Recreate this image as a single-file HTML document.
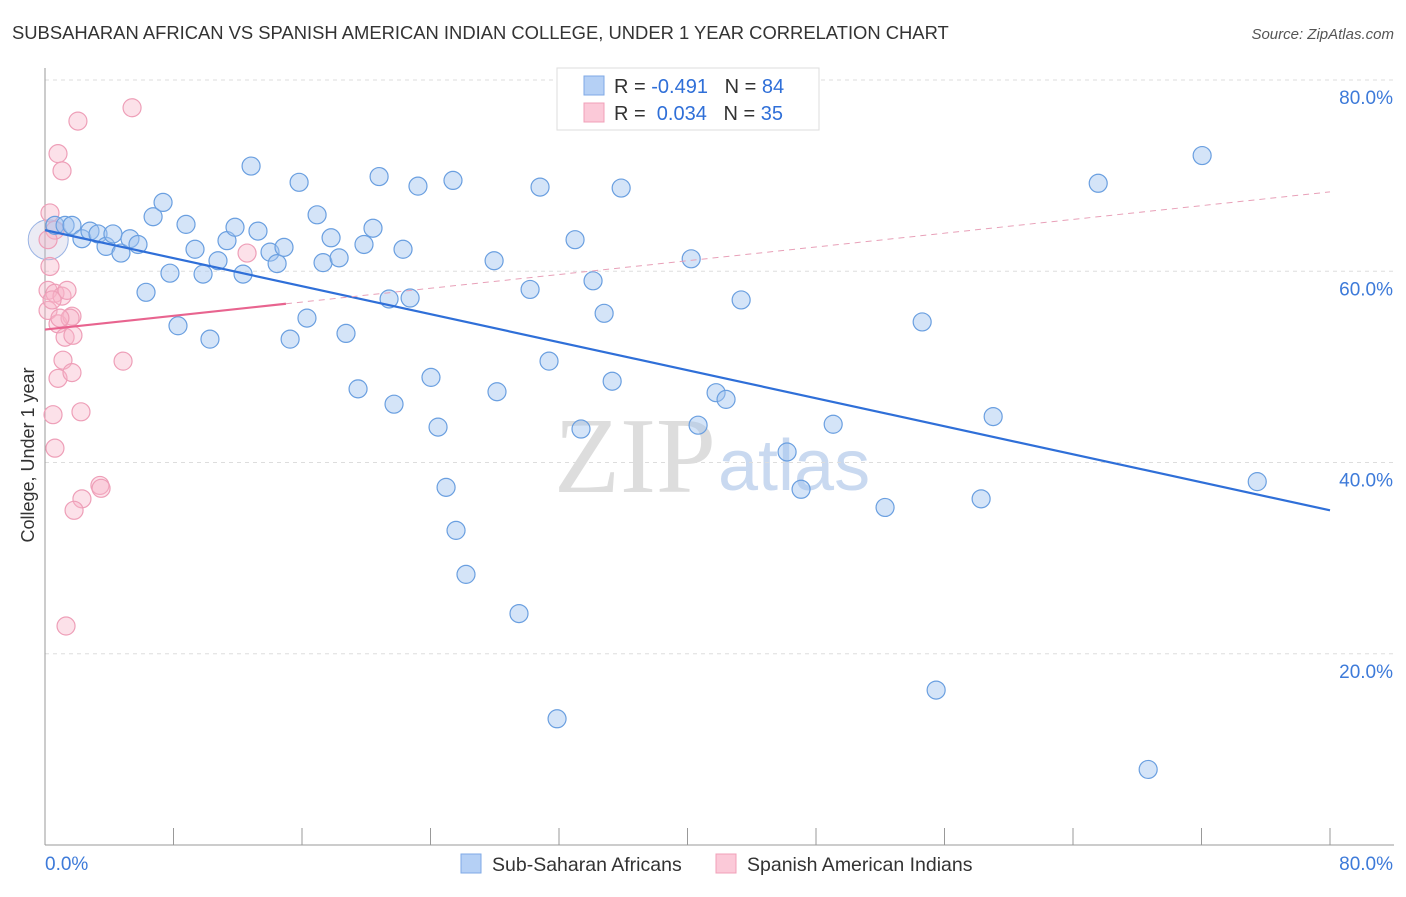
<!DOCTYPE html>
<html><head><meta charset="utf-8"><style>
body{margin:0;background:#fff;font-family:"Liberation Sans",sans-serif}
</style></head><body>
<svg id="chart" width="1406" height="892" xmlns="http://www.w3.org/2000/svg" font-family="Liberation Sans, sans-serif">
<text x="12" y="39" font-size="18.4" fill="#333">SUBSAHARAN AFRICAN VS SPANISH AMERICAN INDIAN COLLEGE, UNDER 1 YEAR CORRELATION CHART</text>
<text x="1394" y="39" font-size="15" fill="#555" text-anchor="end" font-style="italic">Source: ZipAtlas.com</text>
<text x="34" y="455" font-size="18" fill="#333" text-anchor="middle" transform="rotate(-90 34 455)">College, Under 1 year</text>
<text x="716" y="492" font-size="108" fill="#ddd" text-anchor="end" font-family="Liberation Serif, serif">ZIP</text>
<text x="718" y="490" font-size="72" fill="#c9d9f0">atlas</text>
<g id="grid"></g><g id="axes"></g><g id="pts"></g><g id="trend"></g>
<g>
<rect x="557" y="68" width="262" height="62" fill="#fff" stroke="#ddd"/>
<rect x="584" y="76" width="20" height="19" fill="#b5d0f5" stroke="#7fa9e6"/>
<rect x="584" y="103" width="20" height="19" fill="#fbc9d8" stroke="#f0a0b8"/>
<text x="614" y="93" font-size="20" fill="#333" xml:space="preserve">R = <tspan fill="#2f6fd8">-0.491</tspan>   N = <tspan fill="#2f6fd8">84</tspan></text>
<text x="614" y="120" font-size="20" fill="#333" xml:space="preserve">R =  <tspan fill="#2f6fd8">0.034</tspan>   N = <tspan fill="#2f6fd8">35</tspan></text>
</g>
<g>
<rect x="461" y="854" width="20" height="19" fill="#b5d0f5" stroke="#7fa9e6"/>
<text x="492" y="871" font-size="19.5" fill="#333">Sub-Saharan Africans</text>
<rect x="716" y="854" width="20" height="19" fill="#fbc9d8" stroke="#f0a0b8"/>
<text x="747" y="871" font-size="19.5" fill="#333">Spanish American Indians</text>
</g>
</svg>
<script>
const blueX=[0.62,1.25,1.68,2.30,2.80,3.30,3.80,4.23,4.73,5.29,5.79,6.29,6.73,7.35,7.78,8.28,8.78,9.34,9.84,10.27,10.77,11.33,11.83,12.33,12.83,13.26,14.01,14.45,14.88,15.26,15.82,16.31,16.94,17.31,17.81,18.31,18.74,19.49,19.86,20.42,20.80,21.42,21.73,22.29,22.73,23.22,24.03,24.47,24.97,25.40,25.59,26.21,27.96,28.14,29.51,30.20,30.82,31.38,31.88,33.00,33.37,34.12,34.81,35.31,35.87,40.23,40.66,41.78,42.40,43.34,46.20,47.07,49.07,52.30,54.61,55.48,58.28,59.03,65.57,68.68,72.04,75.47,33.62];
const blueY=[64.8,64.8,64.8,63.4,64.2,63.9,62.6,63.9,61.9,63.4,62.8,57.8,65.7,67.2,59.8,54.3,64.9,62.3,59.7,52.9,61.1,63.2,64.6,59.7,71.0,64.2,62.0,60.8,62.5,52.9,69.3,55.1,65.9,60.9,63.5,61.4,53.5,47.7,62.8,64.5,69.9,57.1,46.1,62.3,57.2,68.9,48.9,43.7,37.4,69.5,32.9,28.3,61.1,47.4,24.2,58.1,68.8,50.6,13.2,63.3,43.5,59.0,55.6,48.5,68.7,61.3,43.9,47.3,46.6,57.0,41.1,37.2,44.0,35.3,54.7,16.2,36.2,44.8,69.2,7.9,72.1,38.0,80.0];
const pinkX=[5.42,2.05,0.81,1.06,0.31,0.62,0.19,0.31,0.19,0.62,1.06,1.37,0.19,0.81,1.68,1.56,1.25,1.74,1.12,4.86,0.81,1.68,2.24,0.50,0.62,3.42,3.49,2.30,1.81,1.31,12.58,0.44,0.93];
const pinkY=[77.1,75.7,72.3,70.5,66.1,64.3,63.3,60.5,58.0,57.7,57.4,58.0,55.9,54.5,55.3,55.1,53.1,53.3,50.7,50.6,48.8,49.4,45.3,45.0,41.5,37.6,37.3,36.2,35.0,22.9,61.9,57.0,55.1];
const yTicks=[20,40,60,80];
const xTicks=[0,8,16,24,32,40,48,56,64,72,80];
const blueTrend=[64.3,35.0];
const pinkTrend=[53.9,68.3];
const NS='http://www.w3.org/2000/svg';
const sx=v=>45+v*16.0625, sy=v=>845-v*9.5625;
function mk(tag,attrs,parent){const e=document.createElementNS(NS,tag);for(const k in attrs)e.setAttribute(k,attrs[k]);parent.appendChild(e);return e;}
const grid=document.getElementById('grid'),axes=document.getElementById('axes'),pts=document.getElementById('pts'),trend=document.getElementById('trend');
yTicks.forEach(t=>{
 const l=mk('line',{x1:45,x2:1394,y1:sy(t),y2:sy(t),stroke:'#ddd','stroke-dasharray':'4,4'},grid);
 
 
 const tx=mk('text',{x:1393,y:sy(t)+24,'font-size':19,fill:'#3d7ad9','text-anchor':'end'},axes);
 tx.textContent=t.toFixed(1)+'%';
 
 
});
let ax=mk('line',{x1:45,x2:45,y1:68,y2:845,stroke:'#999'},axes);


ax=mk('line',{x1:45,x2:1394,y1:845,y2:845,stroke:'#999'},axes);


xTicks.forEach(t=>{
 const l=mk('line',{x1:sx(t),x2:sx(t),y1:828,y2:845,stroke:'#999'},axes);
 
 
});
[[0,'start',45],[80,'end',1393]].forEach(([v,a,x])=>{
 const tx=mk('text',{x:x,y:870,'font-size':19,fill:'#3d7ad9','text-anchor':a},axes);
 tx.textContent=v.toFixed(1)+'%';
 
 
});
let big=mk('circle',{cx:sx(0.2),cy:sy(63.3),r:20,fill:'rgba(190,190,220,0.3)',stroke:'#9ab4e4','stroke-width':1},pts);


pinkX.forEach((x,i)=>{
 const c=mk('circle',{cx:sx(x),cy:sy(pinkY[i]),r:9,fill:'rgba(248,180,200,0.4)',stroke:'#ee9fb8','stroke-width':1.2},pts);
 
 
});
blueX.forEach((x,i)=>{
 const c=mk('circle',{cx:sx(x),cy:sy(blueY[i]),r:9,fill:'rgba(160,196,240,0.45)',stroke:'#6a9fe0','stroke-width':1.2},pts);
 
 
});
let bt=mk('line',{x1:sx(0),y1:sy(blueTrend[0]),x2:sx(80),y2:sy(blueTrend[1]),stroke:'#2f6fd8','stroke-width':2.2},trend);


const pAt=x=>pinkTrend[0]+(pinkTrend[1]-pinkTrend[0])*x/80;
let pt=mk('line',{x1:sx(0),y1:sy(pAt(0)),x2:sx(15),y2:sy(pAt(15)),stroke:'#e8648f','stroke-width':2.2},trend);


let pd=mk('line',{x1:sx(15),y1:sy(pAt(15)),x2:sx(80),y2:sy(pAt(80)),stroke:'#e8a0b8','stroke-width':1,'stroke-dasharray':'6,5'},trend);


</script>
</body></html>
